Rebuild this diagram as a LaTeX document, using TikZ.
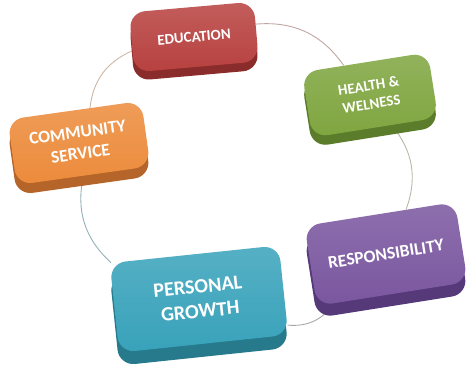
\documentclass[tikz,border=0pt]{standalone}
\usepackage{fontspec}
\setsansfont{Carlito}
\usetikzlibrary{shadows,backgrounds}

\definecolor{eduRed}{HTML}{B7413F}
\definecolor{eduDark}{HTML}{8A2C2B}
\definecolor{heaGreen}{HTML}{7FA53F}
\definecolor{heaDark}{HTML}{5B7C2A}
\definecolor{comOrange}{HTML}{EC8B3B}
\definecolor{comDark}{HTML}{B5652A}
\definecolor{resPurple}{HTML}{7A569F}
\definecolor{resDark}{HTML}{553978}
\definecolor{perTeal}{HTML}{38A2BA}
\definecolor{perDark}{HTML}{27798C}

\tikzset{
  tile/.style={rectangle, rounded corners=9pt, align=center, text=white,
    font=\sffamily\bfseries, inner sep=2pt},
  ring/.style={line width=0.5pt, bend left=#1},
}

\begin{document}
\begin{tikzpicture}[x=0.02cm, y=-0.02cm]
	\useasboundingbox (0,0) rectangle (469,371);
	% the five tiles
	\node[tile, rotate=5, minimum width=2.5cm, minimum height=1.2cm,
	  top color=eduRed!85!white, bottom color=eduRed,
	  general shadow={fill=eduDark, shadow yshift=-0.17cm},
	  font=\sffamily\bfseries\fontsize{8.5}{10}\selectfont] (edu) at (194,37) {EDUCATION};
	\node[tile, rotate=9, minimum width=2.55cm, minimum height=1.32cm,
	  top color=heaGreen!85!white, bottom color=heaGreen,
	  general shadow={fill=heaDark, shadow yshift=-0.19cm},
	  font=\sffamily\bfseries\fontsize{8.5}{10.5}\selectfont] (hea) at (370,95) {HEALTH \&\\WELNESS};
	\node[tile, rotate=8, minimum width=2.7cm, minimum height=1.32cm,
	  top color=comOrange!85!white, bottom color=comOrange,
	  general shadow={fill=comDark, shadow yshift=-0.2cm},
	  font=\sffamily\bfseries\fontsize{10}{12}\selectfont] (com) at (79,143) {COMMUNITY\\SERVICE};
	\node[tile, rotate=9, minimum width=3.05cm, minimum height=1.62cm,
	  top color=resPurple!85!white, bottom color=resPurple,
	  general shadow={fill=resDark, shadow yshift=-0.24cm},
	  font=\sffamily\bfseries\fontsize{10}{12}\selectfont] (res) at (386,254) {RESPONSIBILITY};
	\node[tile, rotate=6, minimum width=3.4cm, minimum height=1.8cm,
	  top color=perTeal!85!white, bottom color=perTeal,
	  general shadow={fill=perDark, shadow yshift=-0.26cm},
	  font=\sffamily\bfseries\fontsize{11.5}{14}\selectfont] (per) at (199,299) {PERSONAL\\GROWTH};
	% ring behind the tiles
	\begin{scope}[on background layer]
		\draw[ring=30, draw=eduRed!40!gray!60] (edu) to (hea);
		\draw[ring=30, draw=heaGreen!30!gray!60] (hea) to (res);
		\draw[ring=30, draw=gray!70] (res) to (per);
		\draw[ring=30, draw=perTeal!40!gray!70] (per) to (com);
		\draw[ring=30, draw=comOrange!40!gray!60] (com) to (edu);
	\end{scope}
\end{tikzpicture}
\end{document}
